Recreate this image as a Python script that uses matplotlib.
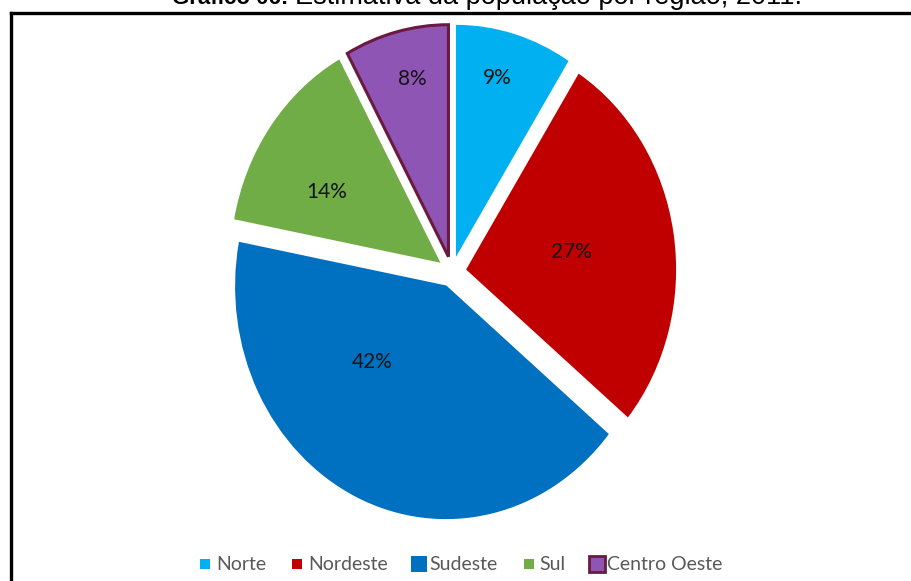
import matplotlib
matplotlib.use("Agg")
import matplotlib.pyplot as plt
from matplotlib.lines import Line2D

regioes = ["Norte", "Nordeste", "Sudeste", "Sul", "Centro Oeste"]
populacao = [9, 27, 42, 14, 8]
cores = ["#00B0F0", "#C00000", "#0070C0", "#70AD47", "#8E55B5"]
bordas = ["#00B0F0", "#C00000", "#0070C0", "#70AD47", "#6B1A3F"]
larg_borda = [0, 0, 1.2, 0, 2.2]
# posicao dos rotulos (unidades do raio)
pos_rotulos = [(0.214, 0.836), (0.571, 0.086), (-0.381, -0.388), (-0.595, 0.345), (-0.19, 0.83)]

W, H = 912, 581
fig = plt.figure(figsize=(W / 100, H / 100), dpi=100)

# moldura (so topo e lado esquerdo aparecem)
fig.add_artist(Line2D([11.5 / W, 1.0], [1 - 12.5 / H, 1 - 12.5 / H], transform=fig.transFigure,
                      color="black", linewidth=2.4, solid_capstyle="projecting"))
fig.add_artist(Line2D([11.5 / W, 11.5 / W], [1 - 12.5 / H, 0.0], transform=fig.transFigure,
                      color="black", linewidth=2.4, solid_capstyle="projecting"))

fig.text(172 / W, 1 - 4 / H, "Gráfico 06:", fontsize=16, fontweight="bold",
         family="Liberation Sans", ha="left", va="baseline")
fig.text(295 / W, 1 - 4 / H, "Estimativa da população por região, 2011.", fontsize=19.5,
         family="Liberation Sans", ha="left", va="baseline")

cx, cy, rx, ry = 452, 272, 210, 232
ax = fig.add_axes([(cx - 1.2 * rx) / W, (H - cy - 1.2 * ry) / H, 2.4 * rx / W, 2.4 * ry / H])
wedges, _ = ax.pie(populacao, colors=cores, startangle=90, counterclock=False,
                   explode=[0.068] * 5)
for w, ec, lw in zip(wedges, bordas, larg_borda):
    w.set_edgecolor(ec)
    w.set_linewidth(lw)
ax.set_aspect("auto")
ax.set_xlim(-1.2, 1.2)
ax.set_ylim(-1.2, 1.2)
ax.axis("off")

for v, (x, y) in zip(populacao, pos_rotulos):
    ax.text(x, y, f"{v}%", ha="center", va="center", fontsize=15,
            family="Lato", color="#141414")

tam = [7, 7, 12, 7, 12]
handles = [Line2D([], [], linestyle="none", marker="s", markersize=s, markerfacecolor=c,
                  markeredgecolor=e, markeredgewidth=2 if e != c else 0)
           for s, c, e in zip(tam, cores, bordas)]
fig.legend(handles, regioes, loc="center", bbox_to_anchor=(461 / W, 1 - 565 / H), ncol=5,
           frameon=False, prop={"family": "Lato", "size": 14}, labelcolor="#595959",
           handlelength=0.6, handletextpad=0.25, columnspacing=1.3)

fig.savefig("out.png", dpi=100)
